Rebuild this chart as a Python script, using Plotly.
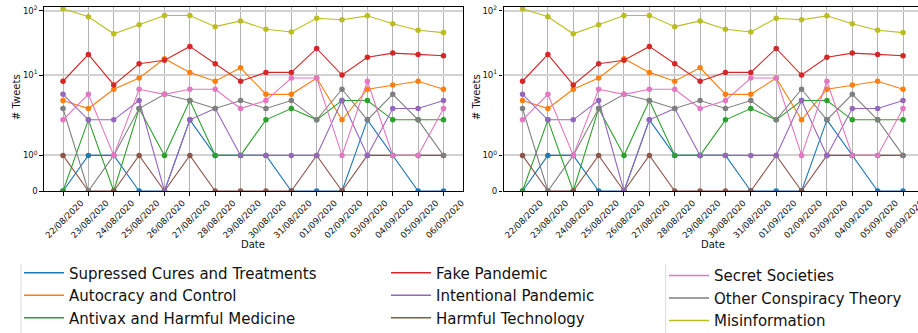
import math
import plotly.graph_objects as go

dates = ['22/08/2020', '23/08/2020', '24/08/2020', '25/08/2020', '26/08/2020',
         '27/08/2020', '28/08/2020', '29/08/2020', '30/08/2020', '31/08/2020',
         '01/09/2020', '02/09/2020', '03/09/2020', '04/09/2020', '05/09/2020',
         '06/09/2020']

supressed = [0, 1, 1, 0, 0, 2, 1, 1, 1, 0, 0, 0, 2, 1, 0, 0]
autocracy = [4, 3, 6, 9, 18, 11, 8, 13, 5, 5, 9, 2, 6, 7, 8, 6]
antivax = [0, 2, 0, 3, 1, 4, 1, 1, 2, 3, 2, 4, 4, 2, 2, 2]
fake_pandemic = [8, 21, 7, 15, 17, 28, 15, 8, 11, 11, 26, 10, 19, 22, 21, 20]
intentional = [5, 2, 2, 4, 0, 2, 3, 1, 1, 1, 1, 4, 1, 3, 3, 4]
harmful_tech = [1, 0, 0, 1, 0, 1, 0, 0, 0, 0, 1, 0, 1, 1, 1, 1]
secret_soc = [2, 5, 1, 6, 5, 6, 6, 3, 4, 9, 9, 1, 8, 1, 1, 3]
other_ct = [3, 0, 1, 3, 5, 4, 3, 4, 3, 4, 2, 6, 2, 5, 2, 1]
misinfo = [108, 81, 44, 61, 85, 85, 57, 70, 52, 47, 77, 73, 84, 63, 50, 46]

y_tick_values = [0, 1, 10, 100]
y_tick_labels = ['0', '10<sup>0</sup>', '10<sup>1</sup>', '10<sup>2</sup>']

# (name, values, colour, legend column, rank in column); list order = drawing order
series = [
    ('Supressed Cures and Treatments', supressed, '#1f77b4', 'legend', 1),
    ('Autocracy and Control', autocracy, '#ff7f0e', 'legend', 2),
    ('Antivax and Harmful Medicine', antivax, '#2ca02c', 'legend', 3),
    ('Fake Pandemic', fake_pandemic, '#d62728', 'legend2', 1),
    ('Harmful Technology', harmful_tech, '#8c564b', 'legend2', 3),
    ('Intentional Pandemic', intentional, '#9467bd', 'legend2', 2),
    ('Other Conspiracy Theory', other_ct, '#7f7f7f', 'legend3', 2),
    ('Secret Societies', secret_soc, '#e377c2', 'legend3', 1),
    ('Misinformation', misinfo, '#bcbd22', 'legend3', 3),
]


def symlog(v, linthresh=2.0, base=10.0, linscale=1.0):
    adj = linscale / (1.0 - 1.0 / base)
    if abs(v) <= linthresh:
        return v * adj
    s = 1 if v > 0 else -1
    return s * linthresh * (adj + math.log(abs(v) / linthresh, base))


W, H = 918, 333
FONT = 'DejaVu Sans'

fig = go.Figure()
for xa, ya in [('x', 'y'), ('x2', 'y2')]:
    for name, vals, col, leg, rank in series:
        fig.add_trace(go.Scatter(
            x=dates, y=[symlog(v) for v in vals], customdata=vals,
            hovertemplate='%{x}: %{customdata}<extra>' + name + '</extra>',
            name=name, mode='lines+markers', xaxis=xa, yaxis=ya,
            line=dict(color=col, width=1.1),
            marker=dict(color=col, size=5.5),
            showlegend=False, legendgroup=name,
        ))
# legend entries (line only, like the reference legend)
for name, vals, col, leg, rank in series:
    fig.add_trace(go.Scatter(
        x=[None], y=[None], mode='lines', name=name,
        line=dict(color=col, width=1.5), xaxis='x', yaxis='y',
        showlegend=True, legend=leg, legendrank=rank, legendgroup=name,
        hoverinfo='skip',
    ))

tickvals = [symlog(v) for v in y_tick_values]
ytop = 5.754

common_x = dict(
    type='category', showline=True, linecolor='black', linewidth=1.2,
    ticks='outside', ticklen=3.5, tickcolor='black', tickwidth=1,
    showgrid=True, gridcolor='#b4b4b4', gridwidth=1.1,
    tickangle=-45, tickfont=dict(family=FONT, size=8.6, color='#111'),
    ticklabelshift=18, ticklabelstandoff=-1,
    zeroline=False,
)
common_y = dict(
    range=[0, ytop], tickmode='array', tickvals=tickvals, ticktext=y_tick_labels,
    showline=True, linecolor='black', linewidth=1.2,
    ticks='outside', ticklen=3.5, tickcolor='black', tickwidth=1,
    showgrid=True, gridcolor='#d2d2d2', gridwidth=1.8,
    tickfont=dict(family=FONT, size=8.6, color='#111'),
    zeroline=False,
)

y_dom = [1 - 191 / H, 1 - 6.7 / H]
fig.update_layout(
    width=W, height=H, margin=dict(l=0, r=0, t=0, b=0, autoexpand=False),
    paper_bgcolor='white', plot_bgcolor='white',
    font=dict(family=FONT, color='#111'),
    xaxis=dict(common_x, domain=[44 / W, 462.5 / W], range=[-0.75, 15.75],
               mirror=True, anchor='y'),
    yaxis=dict(common_y, domain=y_dom, mirror=True, anchor='x'),
    xaxis2=dict(common_x, domain=[503.5 / W, 1.0], range=[-0.75, 15.59],
                mirror=True, anchor='y2'),
    yaxis2=dict(common_y, domain=y_dom, mirror=False, anchor='x2'),
    showlegend=True,
)

title_font = dict(family=FONT, size=10, color='#111')
for xc in ((44 + 462.5) / 2, (503.5 + 922) / 2):
    fig.add_annotation(text='Date', xref='paper', yref='paper', x=xc / W,
                       y=1 - 244 / H, xanchor='center', yanchor='middle',
                       showarrow=False, font=title_font)
for xc in (16, 476):
    fig.add_annotation(text='# Tweets', xref='paper', yref='paper', x=xc / W,
                       y=1 - 97 / H, xanchor='center', yanchor='middle',
                       textangle=-90, showarrow=False, font=title_font)

leg_common = dict(
    orientation='v', xanchor='left', yanchor='top', bgcolor='rgba(0,0,0,0)',
    borderwidth=0, font=dict(family=FONT, size=15, color='#111'),
    traceorder='normal', itemclick=False, itemdoubleclick=False,
    xref='container', yref='container', itemwidth=40,
)
fig.update_layout(
    legend=dict(leg_common, x=19 / W, y=1 - 256.5 / H),
    legend2=dict(leg_common, x=386 / W, y=1 - 256.5 / H),
    legend3=dict(leg_common, x=664 / W, y=1 - 259.2 / H),
)

for xpix in (21, 665.7):
    fig.add_shape(type='line', xref='paper', yref='paper',
                  x0=xpix / W, x1=xpix / W, y0=0, y1=1 - 264 / H,
                  line=dict(color='#dcdcdc', width=1))

fig.write_html('out.html', config={'displayModeBar': False},
               post_script="document.body.style.margin='0px';")
